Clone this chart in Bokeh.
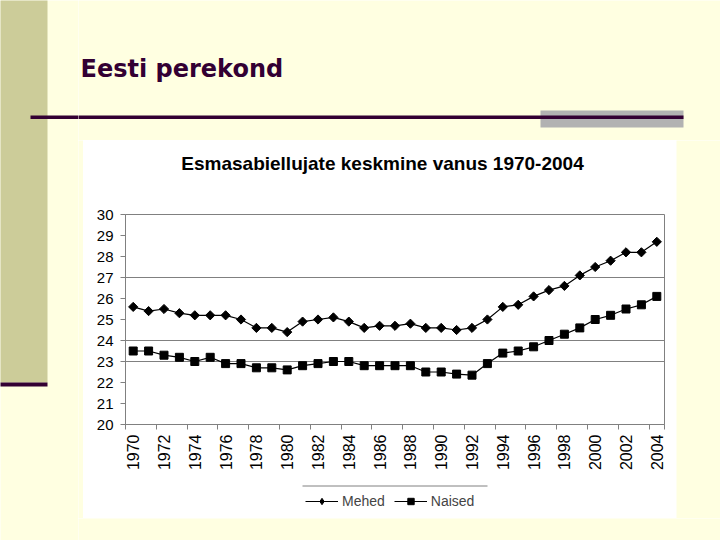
import math
from bokeh.plotting import figure
from bokeh.layouts import column, row
from bokeh.models import Range1d, FixedTicker, Legend, LegendItem
from bokeh.core.properties import value
from bokeh.embed import file_html
from bokeh.resources import INLINE

# ---- data ----
years = list(range(1970, 2005))
mehed = [25.6, 25.4, 25.5, 25.3, 25.2, 25.2, 25.2, 25.0, 24.6, 24.6,
         24.4, 24.9, 25.0, 25.1, 24.9, 24.6, 24.7, 24.7, 24.8, 24.6,
         24.6, 24.5, 24.6, 25.0, 25.6, 25.7, 26.1, 26.4, 26.6, 27.1,
         27.5, 27.8, 28.2, 28.2, 28.7]
naised = [23.5, 23.5, 23.3, 23.2, 23.0, 23.2, 22.9, 22.9, 22.7, 22.7,
          22.6, 22.8, 22.9, 23.0, 23.0, 22.8, 22.8, 22.8, 22.8, 22.5,
          22.5, 22.4, 22.35, 22.9, 23.4, 23.5, 23.7, 24.0, 24.3, 24.6,
          25.0, 25.2, 25.5, 25.7, 26.1]
y_ticks = list(range(20, 31))
grid_values = [23, 24, 27]
x_label_years = list(range(1970, 2005, 2))
series_names = ["Mehed", "Naised"]
slide_title = "Eesti perekond"
chart_title = "Esmasabiellujate keskmine vanus 1970-2004"

# ---- style / layout ----
BG = "#FFFFE1"
OLIVE = "#CCCC99"
DARK = "#330033"
GRAY = "#808080"
FONT = "Liberation Sans"
TOTAL_W, TOTAL_H = 720, 540
LW = 78
BOX_L, BOX_R, BOX_T, BOX_B = 83, 676, 140, 518
TITLE_B = 206
LEG_T = 480
FL, FR, FT, FB = 125, 664, 214, 424


def decor(x0, y0, w, h, fill=BG, bl=0, br=0):
    # decorative strip: its frame maps straight onto page pixels
    f = figure(width=w, height=h, x_range=Range1d(x0 + bl, x0 + w - br),
               y_range=Range1d(y0 + h, y0),
               output_backend="svg", toolbar_location=None, min_border=0,
               min_border_left=bl, min_border_right=br,
               x_axis_type=None, y_axis_type=None,
               background_fill_color=fill, border_fill_color=fill)
    f.outline_line_color = None
    f.grid.visible = False
    return f


# left column of the slide (olive bar)
left = decor(0, 0, LW, TOTAL_H)
left.quad(left=[-5], right=[47], top=[-5], bottom=[382], fill_color=OLIVE, line_color=None)
left.quad(left=[-5], right=[47], top=[382], bottom=[386], fill_color=DARK, line_color=None)
left.quad(left=[30], right=[LW + 5], top=[115], bottom=[118.5], fill_color=DARK, line_color=None)

# top band
top = decor(LW, 0, TOTAL_W - LW, BOX_T)
top.quad(left=[540], right=[683], top=[110], bottom=[127], fill_color="#B2B2B2", line_color=None)
top.quad(left=[LW - 5], right=[683], top=[115], bottom=[118.5], fill_color=DARK, line_color=None)
top.text(x=[80], y=[68], text=[slide_title], text_font=value("DejaVu Sans"),
         text_font_style="bold", text_font_size="24px", text_color=DARK,
         text_align="left", text_baseline="middle")

# spacer, right band and bottom band
spacer = decor(LW, BOX_T, BOX_L - LW, BOX_B - BOX_T)
right = decor(BOX_R, BOX_T, TOTAL_W - BOX_R, BOX_B - BOX_T)
bottom = decor(LW, BOX_B, TOTAL_W - LW, TOTAL_H - BOX_B)

# chart title strip (frame aligned with the plot frame)
tf = decor(BOX_L, BOX_T, BOX_R - BOX_L, TITLE_B - BOX_T, fill="white",
           bl=FL - BOX_L, br=BOX_R - FR)
tf.text(x=[382], y=[163], text=[chart_title], text_font=value(FONT),
        text_font_style="bold", text_font_size="19px", text_color="black",
        text_align="center", text_baseline="middle")

# chart
X0, X1 = years[0] - 0.5, years[-1] + 0.5
p = figure(width=BOX_R - BOX_L, height=LEG_T - TITLE_B,
           x_range=Range1d(X0, X1), y_range=Range1d(y_ticks[0], y_ticks[-1]),
           output_backend="svg", toolbar_location=None,
           min_border_left=FL - BOX_L, min_border_right=BOX_R - FR,
           min_border_top=FT - TITLE_B, min_border_bottom=LEG_T - FB,
           background_fill_color="white", border_fill_color="white")

p.line(years, mehed, line_color="black", line_width=1.2)
p.scatter(years, mehed, marker="square", angle=math.pi / 4, size=6.5,
          fill_color="black", line_color="black")
p.line(years, naised, line_color="black", line_width=1.2)
p.scatter(years, naised, marker="square", size=8, fill_color="black", line_color="black")

p.yaxis.ticker = FixedTicker(ticks=y_ticks)
p.yaxis.major_tick_out = 5
p.yaxis.major_tick_in = 0
p.yaxis.minor_tick_out = 0
p.yaxis.minor_tick_in = 0
p.yaxis.axis_line_color = GRAY
p.yaxis.major_tick_line_color = GRAY
p.yaxis.major_label_text_font = FONT
p.yaxis.major_label_text_font_size = "15px"
p.yaxis.major_label_text_color = "black"
p.yaxis.major_label_standoff = 7

p.xaxis.ticker = FixedTicker(ticks=x_label_years,
                             minor_ticks=[y - 0.5 for y in x_label_years] + [years[-1] + 0.5])
p.xaxis.major_tick_out = 0
p.xaxis.major_tick_in = 0
p.xaxis.minor_tick_out = 5
p.xaxis.minor_tick_in = 0
p.xaxis.minor_tick_line_color = GRAY
p.xaxis.axis_line_color = GRAY
p.xaxis.major_label_orientation = math.pi / 2
p.xaxis.major_label_text_font = FONT
p.xaxis.major_label_text_font_size = "16px"
p.xaxis.major_label_text_color = "black"
p.xaxis.major_label_standoff = 5

p.xgrid.grid_line_color = None
p.ygrid.ticker = FixedTicker(ticks=grid_values)
p.ygrid.grid_line_color = GRAY
p.outline_line_color = GRAY

# legend strip (frame aligned with the plot frame)
lg = decor(BOX_L, LEG_T, BOX_R - BOX_L, BOX_B - LEG_T, fill="white",
           bl=FL - BOX_L, br=BOX_R - FR)
lg.segment(x0=[302], x1=[487], y0=[485.5], y1=[485.5], line_color=GRAY, line_width=1)
off = [0, 1]
k1l = lg.line(x=off, y=off, line_color="black", line_width=1.2)
k1m = lg.scatter(x=off, y=off, marker="diamond", size=9.5,
                 fill_color="black", line_color="black")
k2l = lg.line(x=off, y=off, line_color="black", line_width=1.2)
k2m = lg.scatter(x=off, y=off, marker="square", size=8, fill_color="black", line_color="black")
legend = Legend(items=[LegendItem(label=series_names[0], renderers=[k1l, k1m]),
                       LegendItem(label=series_names[1], renderers=[k2l, k2m])],
                orientation="horizontal", location=(305 - FL, 9),
                background_fill_alpha=0, border_line_color=None,
                label_text_font=FONT, label_text_font_size="14px",
                glyph_width=33, glyph_height=16, label_standoff=4,
                spacing=9, padding=4, margin=0)
lg.add_layout(legend)

layout = row(left, column(top, row(spacer, column(tf, p, lg), right), bottom))
open("out.html", "w").write(file_html(layout, INLINE))
